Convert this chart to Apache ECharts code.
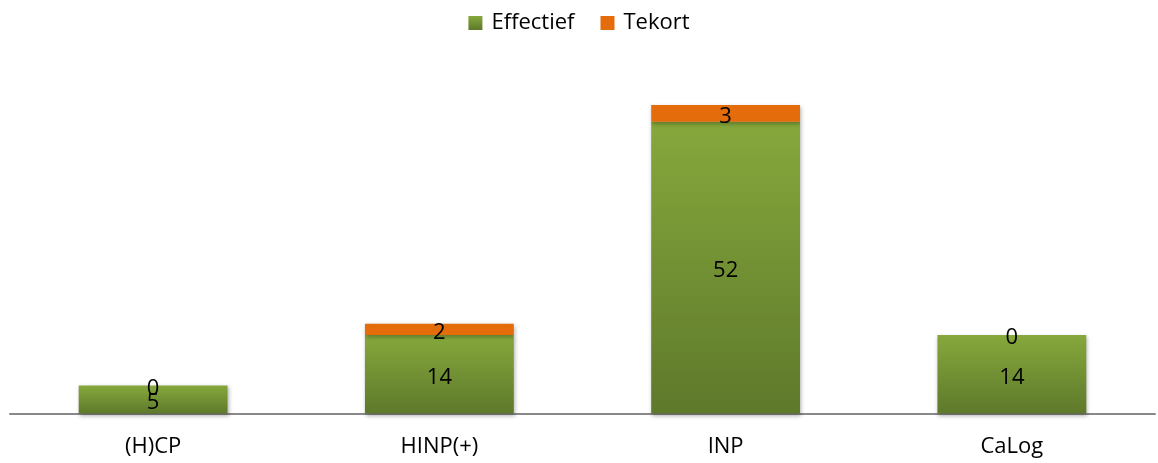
<!DOCTYPE html>
<html><head><meta charset="utf-8">
<script src="https://cdn.jsdelivr.net/npm/echarts@6/dist/echarts.min.js"></script>
<style>html,body{margin:0;padding:0;background:#fff}#c{width:1158px;height:463px}</style>
</head><body><div id="c"></div>
<script>
const categories = ["(H)CP", "HINP(+)", "INP", "CaLog"];
const effectief = [5, 14, 52, 14];
const tekort = [0, 2, 3, 0];
const seriesNames = ["Effectief", "Tekort"];

const chart = echarts.init(document.getElementById('c'));
const font = "'Open Sans', 'Liberation Sans', sans-serif";
const green = new echarts.graphic.LinearGradient(0, 0, 0, 1, [
  {offset: 0, color: '#86a83c'},
  {offset: 1, color: '#5e792b'}
]);
chart.setOption({
  animation: false,
  textStyle: {fontFamily: font},
  legend: {
    top: 7, left: 'center', itemWidth: 14, itemHeight: 14, itemGap: 26,
    icon: 'rect',
    textStyle: {fontSize: 22, color: '#000', fontFamily: font, padding: [0, 0, 0, 4]},
    data: seriesNames
  },
  grid: {left: 10, right: 3, top: 77, bottom: 49.5},
  xAxis: {
    type: 'category', data: categories,
    axisLine: {lineStyle: {color: '#898989', width: 2}},
    axisTick: {show: false},
    axisLabel: {fontSize: 22, color: '#000', margin: 22, fontFamily: font}
  },
  yAxis: {type: 'value', min: 0, max: 60, show: false, splitLine: {show: false}},
  series: [
    {
      name: seriesNames[0], type: 'bar', stack: 'a', data: effectief, barWidth: '52%',
      itemStyle: {color: green, shadowColor: 'rgba(0,0,0,0.3)', shadowBlur: 4, shadowOffsetX: 1, shadowOffsetY: 2},
      label: {show: true, position: 'inside', offset: [0, 3], fontSize: 22, color: '#000', fontFamily: font}
    },
    {
      name: seriesNames[1], type: 'bar', stack: 'a', data: tekort, barWidth: '52%',
      itemStyle: {color: '#e46c0a', shadowColor: 'rgba(0,0,0,0.3)', shadowBlur: 4, shadowOffsetX: 1, shadowOffsetY: 2},
      label: {show: true, position: 'inside', offset: [0, 3], fontSize: 22, color: '#000', fontFamily: font}
    }
  ]
});
</script></body></html>
